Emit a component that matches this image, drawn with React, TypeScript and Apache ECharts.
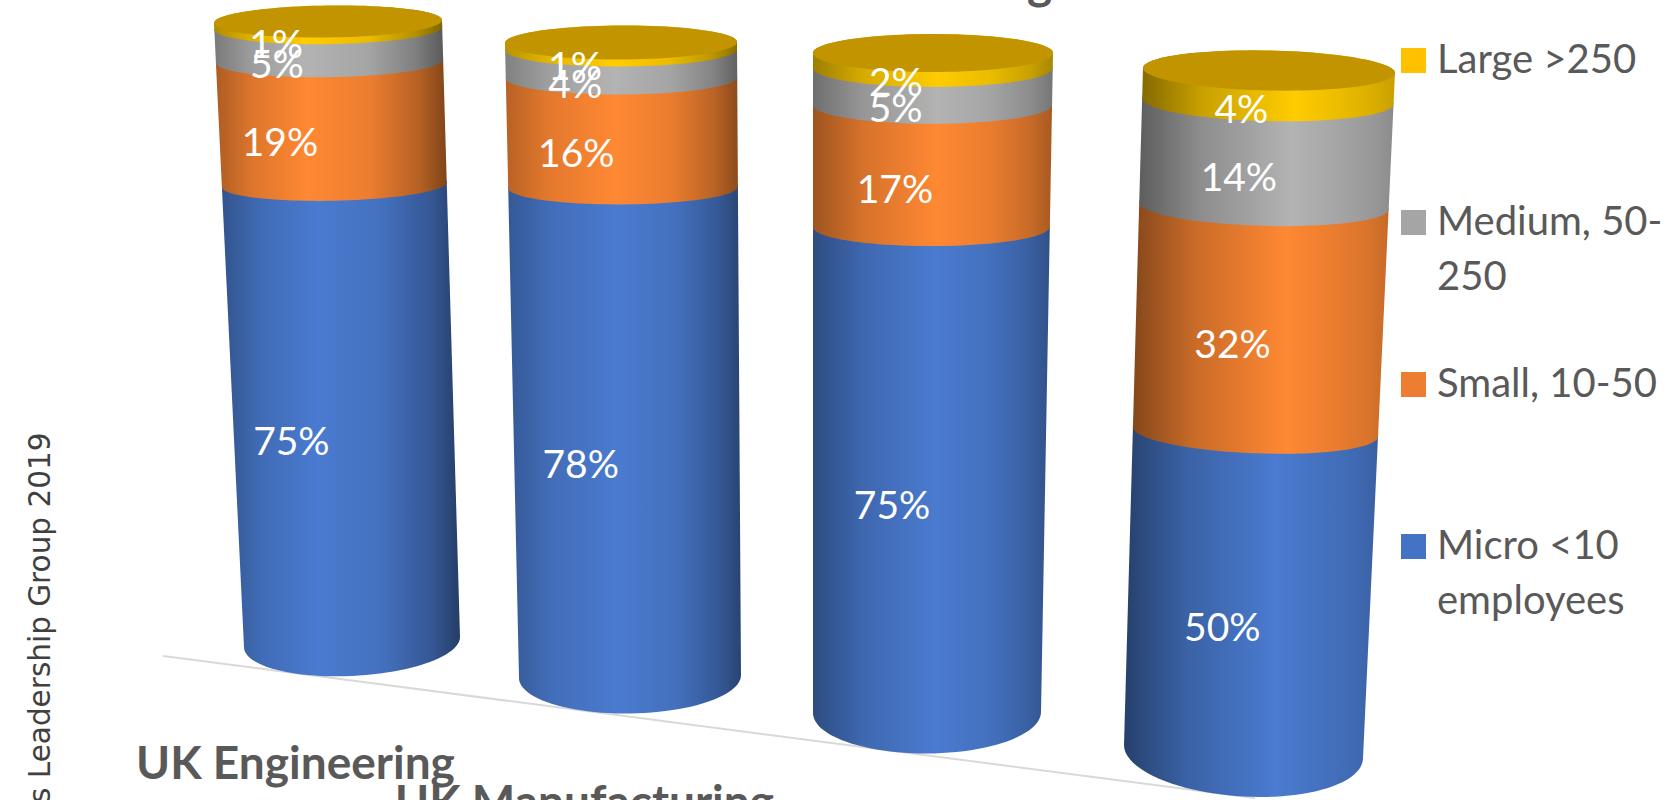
import React, { useEffect, useRef } from "react";
import * as echarts from "echarts";

const CATEGORIES = ["UK Engineering", "UK Manufacturing", "Third group", "Fourth group"];
const MICRO = [75, 78, 75, 50];
const SMALL = [19, 16, 17, 32];
const MEDIUM = [5, 4, 5, 14];
const LARGE = [1, 1, 2, 4];
const SERIES_NAMES = ["Micro <10 employees", "Small, 10-50", "Medium, 50-250", "Large >250"];
const LEGEND_LINES = [["Micro <10", "employees"], ["Small, 10-50"], ["Medium, 50-", "250"], ["Large >250"]];

// Perspective of the picture: where each cylinder's value range lands on the page.
const BOTTOM_LEFT = [[244, 647], [519, 678], [813, 713], [1124, 745]];
const BOTTOM_RIGHT = [[460, 637], [741, 675], [1041, 712], [1363, 758]];
const TOP_LEFT = [[214, 23], [505, 43], [813, 53], [1143, 68]];
const TOP_RIGHT = [[442, 20], [737, 42], [1053, 53], [1395, 73]];
const DEPTH_WARP = [1.07, 1.1, 1.12, 1.13];
const MINOR_TOP = [16, 17, 19, 20];
const MINOR_BOTTOM = [34, 37, 41, 45];
const LABEL_SHIFT = [-52, -46, -37, -27];
const HIGHLIGHT = [0.4, 0.47, 0.52, 0.6];
const SHADE_LEFT = [0.68, 0.72, 0.62, 0.52];
const SHADE_RIGHT = [0.5, 0.55, 0.66, 0.78];

const COLORS = ["#4A7BD0", "#FF8833", "#B3B3B3", "#FFCC00"];
const SWATCHES = ["#4472C4", "#ED7D31", "#A5A5A5", "#FFC000"];
const LID = "#C29400";
const TEXT = "#595959";
const FONT = "Lato, 'Open Sans', sans-serif";

const STACKS = [MICRO, SMALL, MEDIUM, LARGE];
const totalOf = (i: number) => STACKS.reduce((a, s) => a + s[i], 0);

function shade(hex: string, f: number) {
  const n = parseInt(hex.slice(1), 16);
  const c = [(n >> 16) & 255, (n >> 8) & 255, n & 255].map((v) => Math.min(255, Math.round(v * f)));
  return `rgb(${c[0]},${c[1]},${c[2]})`;
}

function ring(i: number, s: number) {
  const w = DEPTH_WARP[i];
  const t = s / (s + (1 - s) * w);
  const lerp = (a: number[], b: number[]) => [a[0] + (b[0] - a[0]) * t, a[1] + (b[1] - a[1]) * t];
  const L = lerp(BOTTOM_LEFT[i], TOP_LEFT[i]);
  const R = lerp(BOTTOM_RIGHT[i], TOP_RIGHT[i]);
  const c = [(L[0] + R[0]) / 2, (L[1] + R[1]) / 2];
  const a = [(R[0] - L[0]) / 2, (R[1] - L[1]) / 2];
  const b = MINOR_TOP[i] + (MINOR_BOTTOM[i] - MINOR_TOP[i]) * Math.pow(1 - s, 4);
  const at = (th: number) => [c[0] + Math.cos(th) * a[0], c[1] + Math.cos(th) * a[1] + Math.sin(th) * b];
  return { c, b, at };
}

function arc(r: any, from: number, to: number, n = 48) {
  const out: number[][] = [];
  for (let k = 0; k <= n; k++) out.push(r.at(from + ((to - from) * k) / n));
  return out;
}

function gradient(color: string, i: number) {
  const p = HIGHLIGHT[i];
  return {
    type: "linear", x: 0, y: 0, x2: 1, y2: 0,
    colorStops: [
      { offset: 0, color: shade(color, SHADE_LEFT[i]) },
      { offset: p * 0.4, color: shade(color, (SHADE_LEFT[i] + 1) / 2 + 0.03) },
      { offset: p, color: shade(color, 1) },
      { offset: p + (1 - p) * 0.45, color: shade(color, 0.92) },
      { offset: p + (1 - p) * 0.8, color: shade(color, (SHADE_RIGHT[i] + 0.92) / 2) },
      { offset: 1, color: shade(color, SHADE_RIGHT[i]) },
    ],
  };
}

function makeRender(seriesIndex: number) {
  return (_: any, api: any) => {
    const i = api.value(0);
    const start = api.value(1);
    const end = start + api.value(2);
    const total = totalOf(i);
    const y0 = api.coord([i, 0])[1];
    const yT = api.coord([i, total])[1];
    const frac = (v: number) => (y0 - api.coord([i, v])[1]) / (y0 - yT);
    const lo = ring(i, frac(start));
    const hi = ring(i, frac(end));
    const children: any[] = [
      {
        type: "polygon",
        z2: seriesIndex + 1,
        shape: { points: [...arc(lo, Math.PI, 0), ...arc(hi, 0, -Math.PI)] },
        style: { fill: gradient(COLORS[seriesIndex], i) },
      },
    ];
    if (seriesIndex === 3) {
      children.push({
        type: "polygon",
        z2: 10,
        shape: { points: arc(hi, 0, Math.PI * 2, 96) },
        style: { fill: LID },
      });
    }
    const mid = ring(i, frac((start + end) / 2));
    children.push({
      type: "text",
      z2: 100,
      style: {
        x: mid.c[0] + LABEL_SHIFT[i],
        y: mid.c[1] + mid.b + 2,
        text: `${api.value(2)}%`,
        fill: "#ffffff",
        fontFamily: FONT,
        fontSize: 39,
        align: "center",
        verticalAlign: "middle",
      },
    });
    return { type: "group", children };
  };
}

const seriesData = (vals: number[], idx: number) =>
  vals.map((v, i) => [i, STACKS.slice(0, idx).reduce((a, s) => a + s[i], 0), v]);

const LEGEND_Y = [534, 372, 210, 48];

function legendGraphics() {
  const out: any[] = [];
  LEGEND_LINES.forEach((lines, k) => {
    out.push({
      type: "rect",
      shape: { x: 1401, y: LEGEND_Y[k], width: 25, height: 25 },
      style: { fill: SWATCHES[k] },
    });
    lines.forEach((line, j) => {
      out.push({
        type: "text",
        style: {
          x: 1437,
          y: LEGEND_Y[k] + 10 + j * 55,
          text: line,
          fill: TEXT,
          fontFamily: FONT,
          fontSize: 40,
          align: "left",
          verticalAlign: "middle",
        },
      });
    });
  });
  return out;
}

export default function App() {
  const ref = useRef<HTMLDivElement>(null);
  useEffect(() => {
    document.body.style.margin = "0";
    document.body.style.overflow = "hidden";
    const chart = echarts.init(ref.current!, undefined, { renderer: "svg" });
    chart.setOption({
      animation: false,
      backgroundColor: "#ffffff",
      grid: { left: 0, right: 0, top: 0, bottom: 0 },
      xAxis: { type: "category", data: CATEGORIES, show: false },
      yAxis: { type: "value", min: 0, max: 100, show: false },
      graphic: [
        {
          type: "line",
          z: 0,
          shape: { x1: 163, y1: 656, x2: 1255, y2: 798 },
          style: { stroke: "#D9D9D9", lineWidth: 2 },
        },
        {
          type: "text",
          style: { x: 1027, y: -44, text: "g", fill: TEXT, fontFamily: FONT, fontWeight: "bold", fontSize: 48 },
        },
        {
          type: "text",
          style: { x: 136, y: 738, text: CATEGORIES[0], fill: TEXT, fontFamily: FONT, fontWeight: "bold", fontSize: 46 },
        },
        {
          type: "text",
          style: { x: 395, y: 777, text: CATEGORIES[1], fill: TEXT, fontFamily: FONT, fontWeight: "bold", fontSize: 46 },
        },
        {
          type: "text",
          rotation: Math.PI / 2,
          x: 24.5,
          y: 803,
          style: {
            x: 0,
            y: 0,
            text: "s Leadership Group 2019",
            fill: "#404040",
            fontFamily: "'DejaVu Sans', sans-serif",
            fontSize: 29.5,
            align: "left",
          },
        },
        ...legendGraphics(),
      ],
      series: STACKS.map((vals, idx) => ({
        type: "custom",
        name: SERIES_NAMES[idx],
        silent: true,
        renderItem: makeRender(idx),
        data: seriesData(vals, idx),
        encode: { x: 0, y: 1 },
      })),
    });
    return () => chart.dispose();
  }, []);
  return <div ref={ref} style={{ width: 1680, height: 800 }} />;
}
